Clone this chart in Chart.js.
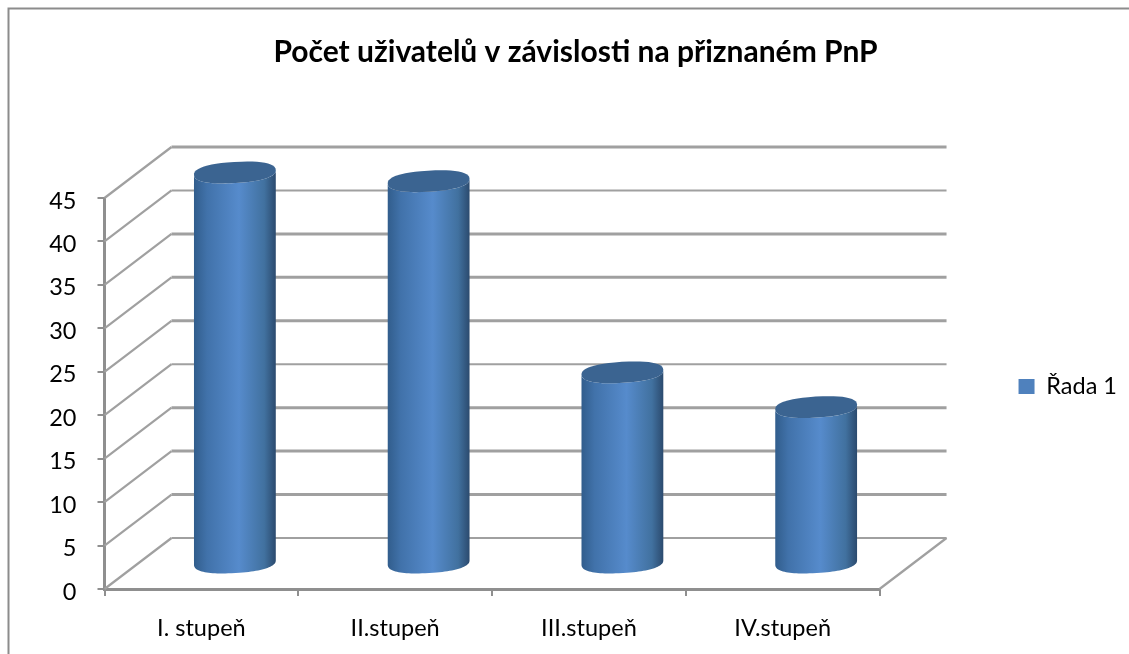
<!DOCTYPE html>
<html>
<head>
<meta charset="utf-8">
<title>PnP</title>
<style>
  html, body { margin: 0; padding: 0; background: #fff; }
  canvas { display: block; }
</style>
<script src="https://cdn.jsdelivr.net/npm/chart.js@4/dist/chart.umd.min.js"></script>
</head>
<body>
<canvas id="pnpChart" width="1129" height="654"></canvas>
<script>
const categories = ['I. stupeň', 'II.stupeň', 'III.stupeň', 'IV.stupeň'];
const seriesName = 'Řada 1';
const seriesValues = [45, 44, 22, 18];
const chartTitle = 'Počet uživatelů v závislosti na přiznaném PnP';
const yMax = 45;
const yStep = 5;
// back wall line weights, the source image was rescaled so they differ
const wallWeights = [2, 3, 3, 3, 2, 3, 3, 3, 2, 3];

const depthX = 67;
const depthY = -51;
const gridColor = '#a0a0a0';
const axisColor = '#8f8f8f';

// point on a slightly squared, tilted ellipse
function capPoint(cx, cy, rx, ry, t) {
    const tilt = -3.5 * Math.PI / 180;
    const cos = Math.cos(t);
    const sin = Math.sin(t);
    const px = rx * Math.sign(cos) * Math.pow(Math.abs(cos), 0.85);
    const py = ry * Math.sign(sin) * Math.pow(Math.abs(sin), 0.85);
    return [cx + px * Math.cos(tilt) - py * Math.sin(tilt), cy + px * Math.sin(tilt) + py * Math.cos(tilt)];
}

function traceCap(c, cx, cy, rx, ry, from, to) {
    const steps = 48;
    for (let i = 0; i <= steps; i++) {
        const p = capPoint(cx, cy, rx, ry, from + (to - from) * i / steps);
        c.lineTo(p[0], p[1]);
    }
}

// walls, floor and outer frame
const wallPlugin = {
    id: 'walls',
    afterLayout(chart) {
        // push the legend out to where it sits in the picture
        chart.legend.left += 129;
        chart.legend.right += 129;
        chart.legend.top -= 7;
        chart.legend.bottom -= 7;
        chart.titleBlock.left = 22;
        chart.titleBlock.right = 1129;
    },
    beforeDraw(chart) {
        const c = chart.ctx;
        c.save();
        c.strokeStyle = '#8c8c8c';
        c.lineWidth = 2;
        c.beginPath();
        c.moveTo(8.5, 654);
        c.lineTo(8.5, 8.5);
        c.lineTo(1129, 8.5);
        c.stroke();
        c.restore();
    },
    beforeDatasetsDraw(chart) {
        const c = chart.ctx;
        const { x: xs, y: ys } = chart.scales;
        const left = xs.left;
        const right = xs.right;
        c.save();
        c.strokeStyle = gridColor;
        for (let v = 0, i = 0; v <= yMax; v += yStep, i++) {
            const py = ys.getPixelForValue(v);
            c.lineWidth = 2.2;
            c.beginPath();
            c.moveTo(left, py);
            c.lineTo(left + depthX, py + depthY);
            c.stroke();
            c.lineWidth = wallWeights[i];
            c.beginPath();
            c.moveTo(left + depthX, py + depthY);
            c.lineTo(right + depthX, py + depthY);
            c.stroke();
        }
        const py0 = ys.getPixelForValue(0);
        c.lineWidth = 2.2;
        c.beginPath();
        c.moveTo(right, py0);
        c.lineTo(right + depthX, py0 + depthY);
        c.stroke();
        c.restore();
    },
    // bars become cylinders standing half way back on the floor
    beforeDatasetDraw(chart, args) {
        const c = chart.ctx;
        const meta = args.meta;
        meta.data.forEach(bar => {
            const cx = bar.x + depthX / 2;
            const rx = bar.width / 2;
            const ry = 10.5;
            const topY = bar.y + depthY / 2;
            const baseY = bar.base + depthY / 2;

            const grad = c.createLinearGradient(cx - rx, 0, cx + rx, 0);
            grad.addColorStop(0, '#315d8c');
            grad.addColorStop(0.16, '#4172aa');
            grad.addColorStop(0.55, '#568bcc');
            grad.addColorStop(0.86, '#41719f');
            grad.addColorStop(1, '#2b4a6e');

            c.save();
            c.fillStyle = grad;
            c.beginPath();
            traceCap(c, cx, baseY, rx, ry, 0, Math.PI);
            traceCap(c, cx, topY, rx, ry, Math.PI, 0);
            c.closePath();
            c.fill();
            c.fillStyle = '#3b6491';
            c.beginPath();
            traceCap(c, cx, topY, rx, ry, 0, Math.PI * 2);
            c.closePath();
            c.fill();
            c.restore();
        });
        return false;
    }
};

new Chart(document.getElementById('pnpChart'), {
    type: 'bar',
    data: {
        labels: categories,
        datasets: [{
            label: seriesName,
            data: seriesValues,
            backgroundColor: '#4f81bd',
            barPercentage: 1,
            categoryPercentage: 0.423
        }]
    },
    options: {
        responsive: false,
        animation: false,
        layout: { padding: { right: 131 } },
        plugins: {
            title: {
                display: true,
                text: chartTitle,
                color: '#000',
                font: { family: 'Lato', size: 30, weight: 'bold', lineHeight: 1.2 },
                padding: { top: 34, bottom: 128 }
            },
            legend: {
                position: 'right',
                fullSize: false,
                labels: {
                    boxWidth: 16,
                    boxHeight: 15,
                    color: '#000',
                    font: { family: 'Lato', size: 23.5 }
                }
            },
            tooltip: { enabled: false }
        },
        scales: {
            x: {
                afterFit(scale) { scale.height = 65; },
                grid: { offset: true, drawOnChartArea: false, color: axisColor, lineWidth: 2, tickLength: 7 },
                border: { color: axisColor, width: 3 },
                ticks: { color: '#000', font: { family: 'Lato', size: 23.5 }, padding: 18, maxRotation: 0 }
            },
            y: {
                min: 0,
                max: yMax,
                afterFit(scale) { scale.width = 104.5; },
                grid: { drawOnChartArea: false, color: axisColor, lineWidth: 2, tickLength: 7 },
                border: { color: axisColor, width: 3 },
                ticks: { stepSize: yStep, color: '#000', font: { family: 'Lato', size: 23.5 }, padding: 21, labelOffset: 3 }
            }
        }
    },
    plugins: [wallPlugin]
});
</script>
</body>
</html>
